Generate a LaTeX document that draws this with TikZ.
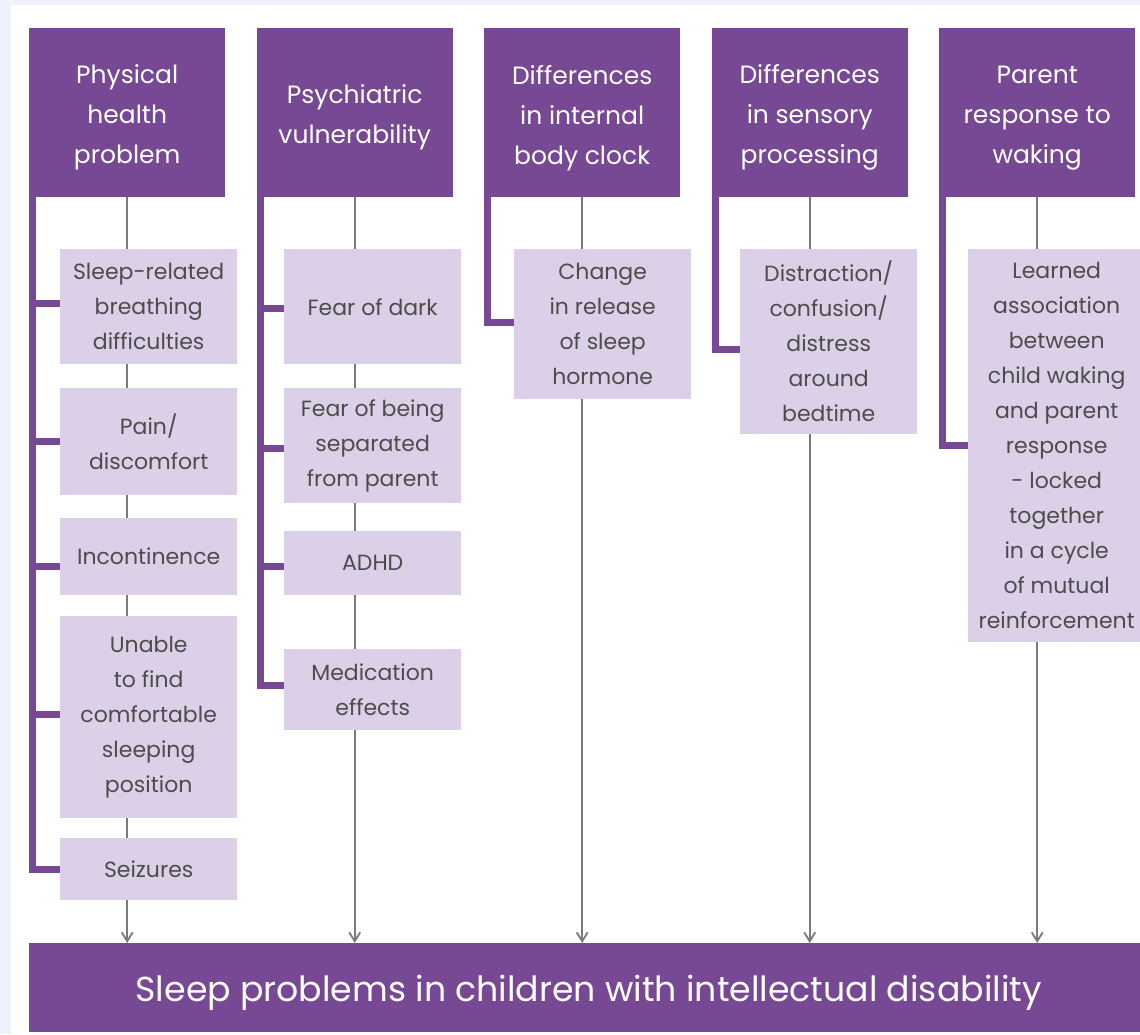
\documentclass[tikz,border=0pt]{standalone}
\usepackage{fontspec}
\setmainfont{Poppins}
\usetikzlibrary{arrows.meta}
\definecolor{plum}{HTML}{774894}
\definecolor{lilac}{HTML}{DCD0E8}
\definecolor{pagebg}{HTML}{EEF2FA}
\definecolor{wire}{HTML}{7A7A7A}
\definecolor{ink}{HTML}{4C4C4C}
\pgfdeclarelayer{back}
\pgfsetlayers{back,main}
\begin{document}
\begin{tikzpicture}[x=1pt,y=-1pt,
  hdr/.style={fill=plum,inner sep=0pt,anchor=north west,
    minimum width=196pt,minimum height=169pt},
  hdrtext/.style={text=white,inner sep=0pt,align=center,font=\fontsize{25}{40}\selectfont},
  cause/.style={fill=lilac,text=ink,inner sep=0pt,align=center,anchor=north west,
    minimum width=177pt,font=\fontsize{22}{35}\selectfont},
  bar/.style={draw=plum,line width=7pt,line join=miter},
  wireline/.style={draw=wire,line width=1.8pt,-{Straight Barb[length=9pt,width=11pt,line width=1.8pt]}}]
\useasboundingbox (0,0) rectangle (1140,1034);

% column headings: box, then its caption set a little below centre
\node[hdr] (h1) at (29,28)    {};
\node[hdr] (h2) at (256.5,28) {};
\node[hdr] (h3) at (484,28)   {};
\node[hdr] (h4) at (711.5,28) {};
\node[hdr] (h5) at (939,28)   {};
\node[hdrtext] (t1) at ([yshift=-5pt]h1.center) {Physical\\health\\problem};
\node[hdrtext] (t2) at ([yshift=-5pt]h2.center) {Psychiatric\\vulnerability};
\node[hdrtext] (t3) at ([yshift=-5pt]h3.center) {Differences\\in internal\\body clock};
\node[hdrtext] (t4) at ([yshift=-5pt]h4.center) {Differences\\in sensory\\processing};
\node[hdrtext] (t5) at ([yshift=-5pt]h5.center) {Parent\\response to\\waking};

% outcome
\node[hdr,minimum width=1116pt,minimum height=89pt] (bot) at (29,943) {};
\node[hdrtext,font=\fontsize{34.7}{40}\selectfont] (bottxt) at ([xshift=1.5pt,yshift=-5pt]bot.center)
  {Sleep problems in children with intellectual disability};

% physical health
\node[cause,minimum height=115pt] (s11) at (60,249) {Sleep-related\\breathing\\difficulties};
\node[cause,minimum height=107pt] (s12) at (60,388) {Pain/\\discomfort};
\node[cause,minimum height=77pt]  (s13) at (60,518) {Incontinence};
\node[cause,minimum height=202pt] (s14) at (60,616) {Unable\\to find\\comfortable\\sleeping\\position};
\node[cause,minimum height=62pt]  (s15) at (60,838) {Seizures};

% psychiatric
\node[cause,minimum height=115pt] (s21) at (284,249) {Fear of dark};
\node[cause,minimum height=115pt] (s22) at (284,388) {Fear of being\\separated\\from parent};
\node[cause,minimum height=64pt]  (s23) at (284,531) {ADHD};
\node[cause,minimum height=81pt]  (s24) at (284,649) {Medication\\effects};

% body clock, sensory, parent response
\node[cause,minimum height=150pt] (s31) at (514,249) {Change\\in release\\of sleep\\hormone};
\node[cause,minimum height=185pt] (s41) at (740,249) {Distraction/\\confusion/\\distress\\around\\bedtime};
\node[cause,minimum height=393pt] (s51) at (968,249) {Learned\\association\\between\\child waking\\and parent\\response\\- locked\\together\\in a cycle\\of mutual\\reinforcement};

\begin{pgfonlayer}{back}
  \fill[pagebg] (0,0) rectangle (1140,1034);
  \fill[white] (11,5) rectangle (1140,1034);
  % flow from each heading to the outcome
  \foreach \h in {h1,h2,h3,h4,h5}
    \draw[wireline] (\h.south) -- (\h.south |- bot.north);
  % brackets tying each cause to its heading
  \draw[bar] ([xshift=3.5pt]h1.south west) |- ([yshift=3.5pt]s11.west);
  \draw[bar] ([xshift=3.5pt]h1.south west) |- (s12.west);
  \draw[bar] ([xshift=3.5pt]h1.south west) |- ([yshift=-9.5pt]s13.west);
  \draw[bar] ([xshift=3.5pt]h1.south west) |- ([yshift=3pt]s14.west);
  \draw[bar] ([xshift=3.5pt]h1.south west) |- (s15.west);
  \draw[bar] ([xshift=3.5pt]h2.south west) |- ([yshift=-1.5pt]s21.west);
  \draw[bar] ([xshift=3.5pt]h2.south west) |- ([yshift=-2.5pt]s22.west);
  \draw[bar] ([xshift=3.5pt]h2.south west) |- ([yshift=-3pt]s23.west);
  \draw[bar] ([xshift=3.5pt]h2.south west) |- ([yshift=4.5pt]s24.west);
  \draw[bar] ([xshift=3.5pt]h3.south west) |- ([yshift=2pt]s31.west);
  \draw[bar] ([xshift=3.5pt]h4.south west) |- ([yshift=-7.5pt]s41.west);
  \draw[bar] ([xshift=3.5pt]h5.south west) |- (s51.west);
\end{pgfonlayer}
\end{tikzpicture}
\end{document}
